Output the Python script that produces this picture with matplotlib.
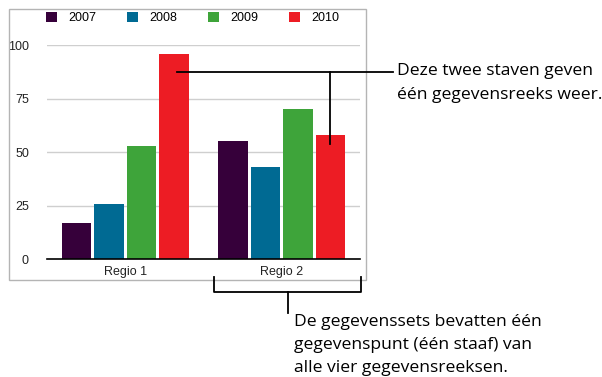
import matplotlib.pyplot as plt
from matplotlib.lines import Line2D
from matplotlib.patches import Patch, Rectangle

# Bar chart data: two regions, four yearly series
regions = ["Regio 1", "Regio 2"]
years = ["2007", "2008", "2009", "2010"]
values_2007 = [17, 55]
values_2008 = [26, 43]
values_2009 = [53, 70]
values_2010 = [96, 58]
series = [values_2007, values_2008, values_2009, values_2010]
colors = ["#36003a", "#006a93", "#3ea43a", "#ed1c24"]

callout_top = "Deze twee staven geven\néén gegevensreeks weer."
callout_bottom = "De gegevenssets bevatten één\ngegevenspunt (één staaf) van\nalle vier gegevensreeksen."

W, H = 602, 377
fig = plt.figure(figsize=(W / 100, H / 100), dpi=100)


def px(x, y):
    # pixel position (top-left origin) -> figure fraction
    return x / W, 1 - y / H


# grey frame around the chart
x0, y0 = px(9, 280)
x1, y1 = px(366, 9)
fig.add_artist(Rectangle((x0, y0), x1 - x0, y1 - y0, transform=fig.transFigure,
                         fill=False, edgecolor="#b4b4b4", linewidth=1))

ax = fig.add_axes([47 / W, (H - 259.3) / H, 313 / W, (259.3 - 45) / H])

step = 0.207
width = 0.188
for i, (vals, col, yr) in enumerate(zip(series, colors, years)):
    xs = [g + (i - 1.5) * step for g in range(len(regions))]
    ax.bar(xs, vals, width=width, color=col, label=yr, zorder=3)

ax.set_xlim(-0.5, 1.5)
ax.set_ylim(0, 100)
ax.set_yticks([0, 25, 50, 75, 100])
ax.set_xticks(range(len(regions)))
ax.set_xticklabels(regions)
ax.yaxis.grid(True, color="#cfcfcf", linewidth=1)
ax.set_axisbelow(True)
for side in ["top", "right", "left"]:
    ax.spines[side].set_visible(False)
ax.spines["bottom"].set_color("black")
ax.spines["bottom"].set_linewidth(1.2)
ax.spines["bottom"].set_zorder(4)
ax.tick_params(length=0, labelsize=9, colors="#222222")
ax.tick_params(axis="y", pad=13)
ax.tick_params(axis="x", pad=5)
for lbl in ax.get_xticklabels() + ax.get_yticklabels():
    lbl.set_fontfamily("Liberation Sans")

handles = [Patch(facecolor=c, edgecolor="none") for c in colors]
fig.legend(handles, years, loc="center left", bbox_to_anchor=px(46, 18), ncol=4,
           frameon=False, handlelength=0.85, handleheight=0.9, handletextpad=0.9,
           columnspacing=2.5, borderpad=0, borderaxespad=0,
           prop={"family": "Liberation Sans", "size": 9})

# callout lines
fig.canvas.draw()
to_fig = fig.transFigure.inverted()


def data_px(x, y):
    dx, dy = ax.transData.transform((x, y))
    fx, fy = to_fig.transform((dx, dy))
    return fx, fy


def line(pts):
    xs = [p[0] for p in pts]
    ys = [p[1] for p in pts]
    fig.add_artist(Line2D(xs, ys, transform=fig.transFigure, color="black", linewidth=1.3))


bar_r1 = 0 + 1.5 * step
bar_r2 = 1 + 1.5 * step
ly = px(0, 72)[1]
start = data_px(bar_r1 + 0.02, 0)[0]
vx = data_px(bar_r2, 0)[0]
vy = data_px(bar_r2, values_2010[1] - 4)[1]
line([(start, ly), (px(393, 0)[0], ly)])
line([(vx, ly), (vx, vy)])
fig.text(*px(397, 83), callout_top, family="Open Sans", fontsize=12.6,
         va="center", ha="left", linespacing=1.6)

# bracket under the second region
line([(px(214, 0)[0], px(0, 277)[1]), (px(214, 0)[0], px(0, 292)[1]),
      (px(361, 0)[0], px(0, 292)[1]), (px(361, 0)[0], px(0, 277)[1])])
line([px(288, 292), px(288, 313)])
fig.text(*px(294, 345), callout_bottom, family="Open Sans", fontsize=12.6,
         va="center", ha="left", linespacing=1.6)

fig.savefig("out.png", dpi=100)
